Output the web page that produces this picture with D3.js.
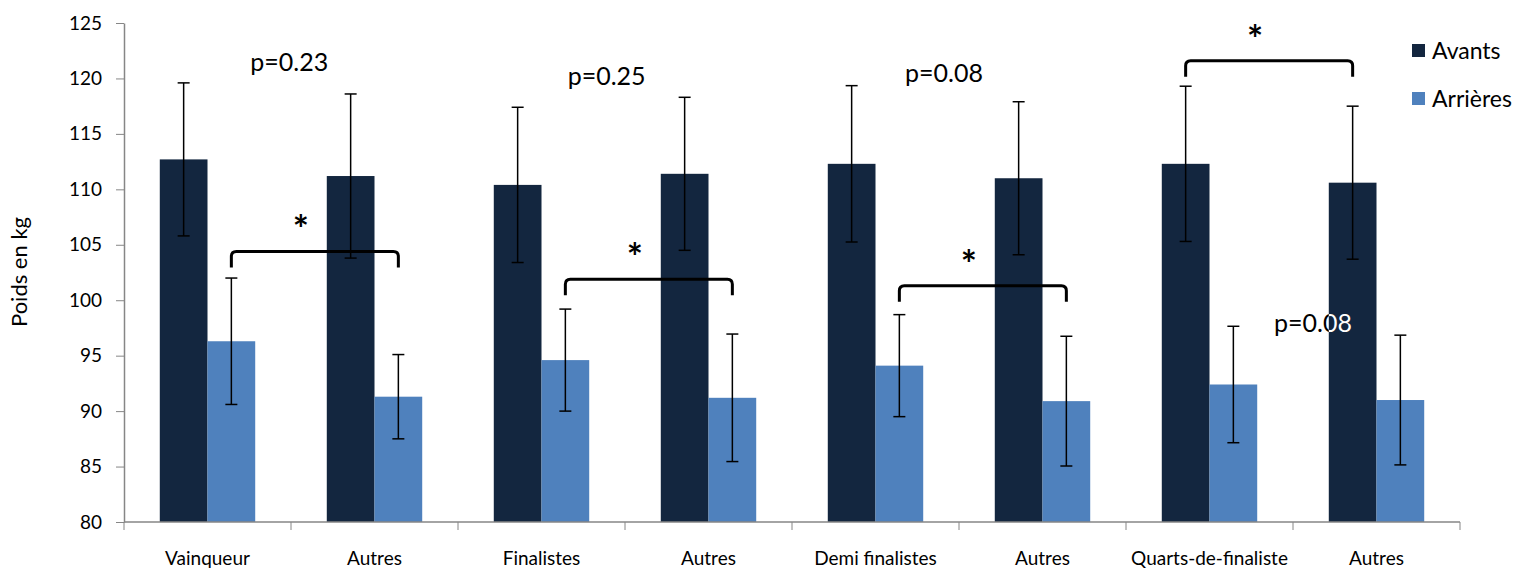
<!DOCTYPE html>
<html><head><meta charset="utf-8">
<script src="https://cdn.jsdelivr.net/npm/d3@7"></script>
<style>body{margin:0;background:#fff}svg{display:block}text{font-family:Lato,"Open Sans",sans-serif}</style>
</head><body>
<svg id="chart" width="1523" height="568"></svg>
<script>
const categories = ["Vainqueur","Autres","Finalistes","Autres","Demi finalistes","Autres","Quarts-de-finaliste","Autres"];
const seriesNames = ["Avants","Arrières"];
const avants = [112.7,111.2,110.4,111.4,112.3,111.0,112.3,110.6];
const avantsSd = [6.9,7.4,7.0,6.9,7.05,6.9,7.0,6.9];
const arrieres = [96.3,91.3,94.6,91.2,94.1,90.9,92.4,91.0];
const arrieresSd = [5.7,3.8,4.6,5.75,4.6,5.85,5.25,5.85];
const yTicks = [80,85,90,95,100,105,110,115,120,125];
// brackets: [fromCategory, fromSeries, toCategory, toSeries, level]
const brackets = [[0,1,1,1,104.4],[2,1,3,1,101.9],[4,1,5,1,101.3],[6,0,7,0,121.6]];
// p labels: position in category units from the left of the axis, and value at baseline
const pLabels = [{t:"p=0.23",c:0.99,v:120.7},{t:"p=0.25",c:2.89,v:119.4},{t:"p=0.08",c:4.91,v:119.7},{t:"p=0.08",c:7.12,v:97.1}];
const colors = ["#13263F","#4F81BD"];

const svg = d3.select("#chart");
const x = d3.scaleBand().domain(d3.range(categories.length)).range([124,1460]).paddingInner(0).paddingOuter(0);
const bw = x.bandwidth()/3.5;
const xs = d3.scaleBand().domain([0,1]).range([0,2*bw]);
const y = d3.scaleLinear().domain([80,125]).range([522,23]);
const data = [avants, arrieres], sds = [avantsSd, arrieresSd];
const barX = (c,s) => x(c) + (x.bandwidth()-2*bw)/2 + xs(s);
const posX = c => x.range()[0] + c*x.bandwidth();

// axes
const yAxis = svg.append("g").attr("transform","translate(124,0)")
  .call(d3.axisLeft(y).tickValues(yTicks).tickSize(8).tickSizeOuter(0));
yAxis.select(".domain").attr("stroke","#868686").attr("stroke-width",1.5);
yAxis.selectAll(".tick line").attr("stroke","#868686");
yAxis.selectAll(".tick text").attr("font-size",19).attr("fill","#000").attr("x",-22).attr("font-family","Lato");

// bars
seriesNames.forEach((name,s)=>{
  svg.append("g").selectAll("rect").data(data[s]).join("rect")
    .attr("x",(d,i)=>barX(i,s)).attr("width",bw)
    .attr("y",d=>y(d)).attr("height",d=>y(80)-y(d)).attr("fill",colors[s]);
});

// x axis
const xAxis = svg.append("g").attr("transform","translate(0,522)");
xAxis.append("line").attr("x1",124).attr("x2",1460).attr("stroke","#868686").attr("stroke-width",1.5);
xAxis.selectAll("line.t").data(d3.range(categories.length+1)).join("line").attr("class","t")
  .attr("x1",i=>posX(i)).attr("x2",i=>posX(i)).attr("y1",0).attr("y2",8).attr("stroke","#868686");
xAxis.selectAll("text").data(categories).join("text")
  .attr("x",(d,i)=>x(i)+x.bandwidth()/2).attr("y",43).attr("text-anchor","middle").attr("font-size",19).text(d=>d);

// error bars
seriesNames.forEach((name,s)=>{
  const g = svg.append("g").attr("stroke","#000").attr("stroke-width",1.5);
  data[s].forEach((v,i)=>{
    const cx = barX(i,s)+bw/2, lo=y(v-sds[s][i]), hi=y(v+sds[s][i]);
    g.append("line").attr("x1",cx).attr("x2",cx).attr("y1",lo).attr("y2",hi);
    g.append("line").attr("x1",cx-6).attr("x2",cx+6).attr("y1",lo).attr("y2",lo);
    g.append("line").attr("x1",cx-6).attr("x2",cx+6).attr("y1",hi).attr("y2",hi);
  });
});

// brackets
brackets.forEach(b=>{
  const x1 = barX(b[0],b[1])+bw/2, x2 = barX(b[2],b[3])+bw/2, yy = y(b[4]);
  const r=5;
  svg.append("path").attr("fill","none").attr("stroke","#000").attr("stroke-width",3)
    .attr("d",`M${x1},${yy+16} L${x1},${yy+r} Q${x1},${yy} ${x1+r},${yy} L${x2-r},${yy} Q${x2},${yy} ${x2},${yy+r} L${x2},${yy+16}`);
  svg.append("text").attr("x",(x1+x2)/2-14).attr("y",yy-8).attr("text-anchor","middle")
    .attr("font-size",38).attr("font-weight","bold").text("*");
});

// p labels
pLabels.forEach(p=>{
  svg.append("text").attr("x",posX(p.c)).attr("y",y(p.v)).attr("text-anchor","middle").attr("font-size",25).attr("fill","#000").text(p.t);
});
// the last label is partly over the dark bar: those glyphs show white
const defs = svg.append("defs");
defs.append("clipPath").attr("id","barclip").append("rect")
  .attr("x",barX(7,0)).attr("width",bw).attr("y",y(avants[7])).attr("height",y(80)-y(avants[7]));
const lastP = pLabels[3];
svg.append("text").attr("clip-path","url(#barclip)").attr("x",posX(lastP.c)).attr("y",y(lastP.v))
  .attr("text-anchor","middle").attr("font-size",25).attr("fill","#fff").text(lastP.t);

// y title
svg.append("text").attr("transform","translate(27,272) rotate(-90)").attr("text-anchor","middle").attr("font-size",22).text("Poids en kg");

// legend
const lg = svg.append("g");
seriesNames.forEach((n,s)=>{
  lg.append("rect").attr("x",1412).attr("y",44+s*48).attr("width",13).attr("height",13).attr("fill",colors[s]);
  lg.append("text").attr("x",1432).attr("y",59+s*48).attr("font-size",23).text(n);
});
</script>
</body></html>
